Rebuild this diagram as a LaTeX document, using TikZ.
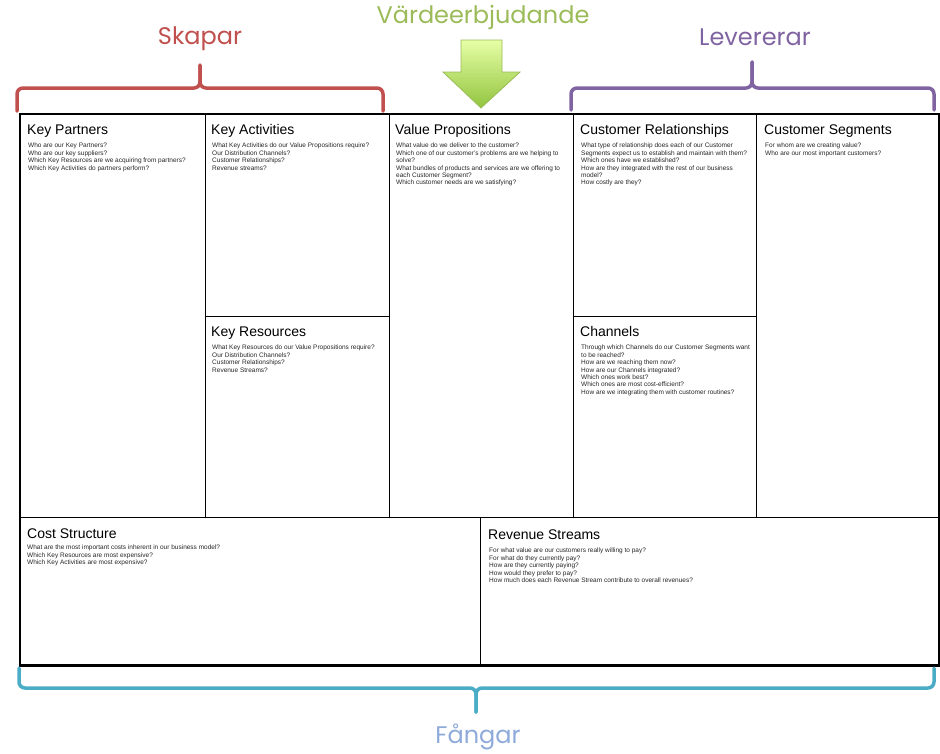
\documentclass[tikz,border=0pt]{standalone}
\usepackage{fontspec}
\setmainfont{Liberation Sans}
\newfontfamily\partfont{Poppins}
\usetikzlibrary{positioning,calc}
\definecolor{skaparred}{HTML}{C0504D}
\definecolor{vardegreen}{HTML}{9BBB59}
\definecolor{leverpurple}{HTML}{8064A2}
\definecolor{fangarblue}{HTML}{4BACC6}
\definecolor{fangartext}{HTML}{8EAADB}
\definecolor{arrowtop}{HTML}{E6FFA6}
\definecolor{arrowbot}{HTML}{92C43F}
\begin{document}
\begin{tikzpicture}[
x=1pt, y=-1pt,
cell/.style={draw, line width=1.2pt, anchor=north west, inner sep=0pt},
title/.style={anchor=base west, inner sep=0pt, font=\fontsize{14}{16}\selectfont},
qs/.style={anchor=north west, inner sep=0pt, align=left, text=black!85, font=\fontsize{6.5}{7.4}\selectfont},
brace/.style={line width=3.5pt, rounded corners=6pt, line cap=round},
part/.style={font=\partfont\fontsize{24}{28}\selectfont},
%every node/.style={scale=0.6},
]
\useasboundingbox (0,0) rectangle (940,753);

% cells
\node[cell, minimum width=185pt, minimum height=403pt] (kp) at (20,114) {};
\node[cell, minimum width=184pt, minimum height=202pt] (ka) at (205,114) {};
\node[cell, minimum width=184pt, minimum height=201pt] (kr) at (205,316) {};
\node[cell, minimum width=184pt, minimum height=403pt] (vp) at (389,114) {};
\node[cell, minimum width=183pt, minimum height=202pt] (cr) at (573,114) {};
\node[cell, minimum width=183pt, minimum height=201pt] (ch) at (573,316) {};
\node[cell, minimum width=182pt, minimum height=403pt] (cs) at (756,114) {};
\node[cell, minimum width=460pt, minimum height=147pt] (cost) at (20,517) {};
\node[cell, minimum width=458pt, minimum height=147pt] (rev) at (480,517) {};
\draw[line width=2.6pt] (kp.north west) rectangle (rev.south east);

% titles and questions
\node[title] (kpT) at ($(kp.north west)+(7,20)$) {Key Partners};
\node[qs] (kpQ) at ($(kpT.base west)+(1,9)$) {Who are our Key Partners?\\Who are our key suppliers?\\Which Key Resources are we acquiring from partners?\\Which Key Activities do partners perform?};

\node[title] (kaT) at ($(ka.north west)+(6,20)$) {Key Activities};
\node[qs] (kaQ) at ($(kaT.base west)+(1,9)$) {What Key Activities do our Value Propositions require?\\Our Distribution Channels?\\Customer Relationships?\\Revenue streams?};

\node[title] (krT) at ($(kr.north west)+(6,20)$) {Key Resources};
\node[qs] (krQ) at ($(krT.base west)+(1,9)$) {What Key Resources do our Value Propositions require?\\Our Distribution Channels?\\Customer Relationships?\\Revenue Streams?};

\node[title] (vpT) at ($(vp.north west)+(6,20)$) {Value Propositions};
\node[qs] (vpQ) at ($(vpT.base west)+(1,9)$) {What value do we deliver to the customer?\\Which one of our customer's problems are we helping to\\solve?\\What bundles of products and services are we offering to\\each Customer Segment?\\Which customer needs are we satisfying?};

\node[title] (crT) at ($(cr.north west)+(7,20)$) {Customer Relationships};
\node[qs] (crQ) at ($(crT.base west)+(1,9)$) {What type of relationship does each of our Customer\\Segments expect us to establish and maintain with them?\\Which ones have we established?\\How are they integrated with the rest of our business\\model?\\How costly are they?};

\node[title] (chT) at ($(ch.north west)+(7,20)$) {Channels};
\node[qs] (chQ) at ($(chT.base west)+(1,9)$) {Through which Channels do our Customer Segments want\\to be reached?\\How are we reaching them now?\\How are our Channels integrated?\\Which ones work best?\\Which ones are most cost-efficient?\\How are we integrating them with customer routines?};

\node[title] (csT) at ($(cs.north west)+(8,20)$) {Customer Segments};
\node[qs] (csQ) at ($(csT.base west)+(1,9)$) {For whom are we creating value?\\Who are our most important customers?};

\node[title] (costT) at ($(cost.north west)+(7,21)$) {Cost Structure};
\node[qs] (costQ) at ($(costT.base west)+(0,7)$) {What are the most important costs inherent in our business model?\\Which Key Resources are most expensive?\\Which Key Activities are most expensive?};

\node[title] (revT) at ($(rev.north west)+(8,22)$) {Revenue Streams};
\node[qs] (revQ) at ($(revT.base west)+(1,9)$) {For what value are our customers really willing to pay?\\For what do they currently pay?\\How are they currently paying?\\How would they prefer to pay?\\How much does each Revenue Stream contribute to overall revenues?};

% braces
\draw[brace, skaparred] (17,111) -- (17,88) -- (200,88) -- (200,65);
\draw[brace, skaparred] (383,111) -- (383,88) -- (200,88) -- (200,65);
\draw[brace, leverpurple] (571,110) -- (571,88) -- (752,88) -- (752,62);
\draw[brace, leverpurple] (934,110) -- (934,88) -- (752,88) -- (752,62);
\draw[brace, fangarblue] (19,668) -- (19,688) -- (476,688) -- (476,712);
\draw[brace, fangarblue] (934,668) -- (934,688) -- (476,688) -- (476,712);

% arrow
\draw[top color=arrowtop, bottom color=arrowbot, draw=vardegreen, line width=0.8pt]
  (461,40) -- (502,40) -- (502,72) -- (520,72) -- (481,108) -- (443,72) -- (461,72) -- cycle;

% labels
\node[part, text=skaparred] (skapar) at (200,39) {Skapar};
\node[part, text=vardegreen] (varde) at (483,17) {Värdeerbjudande};
\node[part, text=leverpurple] (lever) at (755,37) {Levererar};
\node[part, text=fangartext] (fangar) at (478,737) {Fångar};
\end{tikzpicture}
\end{document}
